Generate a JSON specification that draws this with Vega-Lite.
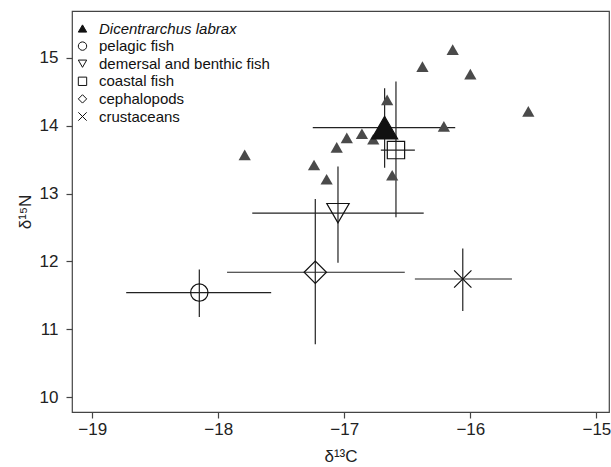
{
  "$schema": "https://vega.github.io/schema/vega-lite/v6.json",
  "width": 537,
  "height": 401,
  "autosize": {"type": "none"},
  "padding": {"left": 72, "top": 11, "right": 2, "bottom": 55},
  "background": "white",
  "config": {
    "font": "Liberation Sans",
    "view": {"stroke": "#444", "strokeWidth": 1.2},
    "axis": {
      "grid": false,
      "domain": false,
      "tickColor": "#444",
      "tickSize": 6,
      "tickWidth": 1.2,
      "labelColor": "#222",
      "labelFontSize": 17,
      "labelPadding": 3,
      "titleColor": "#222",
      "titleFontSize": 17,
      "titleFontWeight": "normal"
    },
    "legend": {
      "orient": "none",
      "legendX": 3,
      "legendY": 10,
      "symbolSize": 70,
      "symbolStrokeColor": "#111",
      "symbolStrokeWidth": 1,
      "labelFontSize": 15,
      "labelColor": "#111",
      "labelOffset": 9,
      "labelLimit": 400,
      "rowPadding": 1.6
    }
  },
  "datasets": {
    "groups": [
      {"group": "Dicentrarchus labrax", "x": -16.68, "y": 13.97, "xlo": -17.25, "xhi": -16.12, "ylo": 13.38, "yhi": 14.55},
      {"group": "pelagic fish", "x": -18.15, "y": 11.54, "xlo": -18.73, "xhi": -17.58, "ylo": 11.18, "yhi": 11.88},
      {"group": "demersal and benthic fish", "x": -17.05, "y": 12.71, "xlo": -17.73, "xhi": -16.37, "ylo": 11.98, "yhi": 13.40},
      {"group": "coastal fish", "x": -16.59, "y": 13.64, "xlo": -16.71, "xhi": -16.44, "ylo": 12.65, "yhi": 14.65},
      {"group": "cephalopods", "x": -17.23, "y": 11.84, "xlo": -17.93, "xhi": -16.52, "ylo": 10.78, "yhi": 12.92},
      {"group": "crustaceans", "x": -16.06, "y": 11.74, "xlo": -16.44, "xhi": -15.67, "ylo": 11.27, "yhi": 12.19}
    ],
    "individuals": [
      {"x": -17.79, "y": 13.57},
      {"x": -17.24, "y": 13.42},
      {"x": -17.14, "y": 13.21},
      {"x": -17.06, "y": 13.68},
      {"x": -16.98, "y": 13.82},
      {"x": -16.86, "y": 13.88},
      {"x": -16.77, "y": 13.80},
      {"x": -16.66, "y": 14.38},
      {"x": -16.62, "y": 13.27},
      {"x": -16.38, "y": 14.87},
      {"x": -16.21, "y": 13.99},
      {"x": -16.14, "y": 15.12},
      {"x": -16.00, "y": 14.76},
      {"x": -15.54, "y": 14.21}
    ]
  },
  "encoding": {
    "x": {
      "type": "quantitative",
      "scale": {"domain": [-19.16, -14.9], "nice": false, "zero": false},
      "axis": {"values": [-19, -18, -17, -16, -15], "format": "d", "title": "δ¹³C", "titlePadding": 11, "labelPadding": 3}
    },
    "y": {
      "type": "quantitative",
      "scale": {"domain": [9.78, 15.69], "nice": false, "zero": false},
      "axis": {"values": [10, 11, 12, 13, 14, 15], "format": "d", "title": "δ¹⁵N", "titlePadding": 5, "labelPadding": 8}
    }
  },
  "layer": [
    {
      "data": {"name": "groups"},
      "mark": {"type": "rule", "color": "#222", "strokeWidth": 1.2},
      "encoding": {
        "x": {"field": "xlo", "type": "quantitative"},
        "x2": {"field": "xhi"},
        "y": {"field": "y", "type": "quantitative"}
      }
    },
    {
      "data": {"name": "groups"},
      "mark": {"type": "rule", "color": "#222", "strokeWidth": 1.2},
      "encoding": {
        "x": {"field": "x", "type": "quantitative"},
        "y": {"field": "ylo", "type": "quantitative"},
        "y2": {"field": "yhi"}
      }
    },
    {
      "data": {"name": "individuals"},
      "mark": {"type": "point", "shape": "triangle-up", "filled": true, "color": "#4a4a4a", "size": 150, "opacity": 1},
      "encoding": {
        "x": {"field": "x", "type": "quantitative"},
        "y": {"field": "y", "type": "quantitative"}
      }
    },
    {
      "data": {"name": "groups"},
      "transform": [{"filter": "datum.group == 'pelagic fish' || datum.group == 'coastal fish' || datum.group == 'crustaceans'"}],
      "mark": {"type": "point", "strokeWidth": 1.2, "opacity": 1, "fillOpacity": 1, "size": 300},
      "encoding": {
        "x": {"field": "x", "type": "quantitative"},
        "y": {"field": "y", "type": "quantitative"},
        "shape": {
          "field": "group", "type": "nominal",
          "scale": {
            "domain": ["Dicentrarchus labrax", "pelagic fish", "demersal and benthic fish", "coastal fish", "cephalopods", "crustaceans"],
            "range": ["triangle-up", "circle", "triangle-down", "square", "diamond", "M-1,-1L1,1M-1,1L1,-1"]
          },
          "legend": {
            "title": null,
            "symbolSize": 70,
            "labelFontStyle": {"expr": "datum.label == 'Dicentrarchus labrax' ? 'italic' : 'normal'"},
            "encode": {
              "symbols": {"stroke": {"value": "#111"}, "strokeWidth": {"value": 1}}
            }
          }
        },
        "fill": {
          "field": "group", "type": "nominal",
          "scale": {
            "domain": ["Dicentrarchus labrax", "pelagic fish", "demersal and benthic fish", "coastal fish", "cephalopods", "crustaceans"],
            "range": ["#111111", "transparent", "transparent", "transparent", "transparent", "transparent"]
          },
          "legend": {
            "title": null,
            "symbolSize": 70,
            "labelFontStyle": {"expr": "datum.label == 'Dicentrarchus labrax' ? 'italic' : 'normal'"},
            "encode": {
              "symbols": {"stroke": {"value": "#111"}, "strokeWidth": {"value": 1}}
            }
          }
        },
        "stroke": {
          "field": "group", "type": "nominal",
          "scale": {
            "domain": ["Dicentrarchus labrax", "pelagic fish", "demersal and benthic fish", "coastal fish", "cephalopods", "crustaceans"],
            "range": ["#111111", "#111111", "#111111", "#111111", "#111111", "#111111"]
          },
          "legend": {
            "title": null,
            "symbolSize": 70,
            "labelFontStyle": {"expr": "datum.label == 'Dicentrarchus labrax' ? 'italic' : 'normal'"},
            "encode": {
              "symbols": {"stroke": {"value": "#111"}, "strokeWidth": {"value": 1}}
            }
          }
        }
      }
    },
    {
      "data": {"name": "groups"},
      "transform": [{"filter": "datum.group == 'demersal and benthic fish' || datum.group == 'cephalopods'"}],
      "mark": {"type": "point", "strokeWidth": 1.2, "opacity": 1, "fillOpacity": 1, "size": 500},
      "encoding": {
        "x": {"field": "x", "type": "quantitative"},
        "y": {"field": "y", "type": "quantitative"},
        "shape": {"field": "group", "type": "nominal"},
        "fill": {"field": "group", "type": "nominal"},
        "stroke": {"field": "group", "type": "nominal"}
      }
    },
    {
      "data": {"name": "groups"},
      "transform": [{"filter": "datum.group == 'Dicentrarchus labrax'"}],
      "mark": {"type": "point", "strokeWidth": 1.2, "opacity": 1, "fillOpacity": 1, "size": 680},
      "encoding": {
        "x": {"field": "x", "type": "quantitative"},
        "y": {"field": "y", "type": "quantitative"},
        "shape": {"field": "group", "type": "nominal"},
        "fill": {"field": "group", "type": "nominal"},
        "stroke": {"field": "group", "type": "nominal"}
      }
    }
  ]
}
